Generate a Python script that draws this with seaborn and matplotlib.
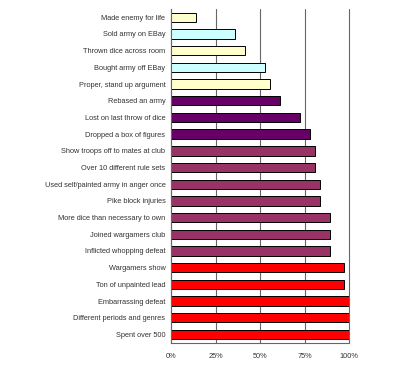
import matplotlib
matplotlib.use("Agg")
import matplotlib.pyplot as plt
import seaborn as sns
import numpy as np
from matplotlib.ticker import FixedLocator

labels = [
    "Made enemy for life",
    "Sold army on EBay",
    "Thrown dice across room",
    "Bought army off EBay",
    "Proper, stand up argument",
    "Rebased an army",
    "Lost on last throw of dice",
    "Dropped a box of figures",
    "Show troops off to mates at club",
    "Over 10 different rule sets",
    "Used self/painted army in anger once",
    "Pike block injuries",
    "More dice than necessary to own",
    "Joined wargamers club",
    "Inflicted whopping defeat",
    "Wargamers show",
    "Ton of unpainted lead",
    "Embarrassing defeat",
    "Different periods and genres",
    "Spent over 500",
]
values = [13.9, 36.1, 41.7, 52.8, 55.6, 61.1, 72.2, 77.8, 80.6, 80.6,
          83.3, 83.3, 88.9, 88.9, 88.9, 97.2, 97.2, 100, 100, 100]
colors = ["#FFFFCC", "#CCFFFF", "#FFFFCC", "#CCFFFF", "#FFFFCC",
          "#660066", "#660066", "#660066",
          "#993366", "#993366", "#993366", "#993366", "#993366", "#993366", "#993366",
          "#FF0000", "#FF0000", "#FF0000", "#FF0000", "#FF0000"]
xticks = [0, 25, 50, 75, 100]
xticklabels = ["0%", "25%", "50%", "75%", "100%"]

sns.set_style("white")
plt.rcParams['font.family'] = ['Liberation Sans', 'DejaVu Sans']

fig = plt.figure(figsize=(4.0, 3.73), dpi=100)
ax = fig.add_axes([0.4275, 0.081, 0.4458, 0.895])

sns.barplot(x=values, y=labels, hue=labels, palette=colors, legend=False,
            orient="h", width=0.56, saturation=1, edgecolor="black",
            linewidth=0.7, ax=ax)

ax.set_xlim(0, 100)
ax.set_ylim(len(labels) - 0.5, -0.5)
ax.set_xticks(xticks)
ax.set_xticklabels(xticklabels, fontsize=5.3, color="#333333")
ax.tick_params(axis="y", which="major", length=0, labelsize=5.3, labelcolor="#333333", pad=4)
ax.yaxis.set_minor_locator(FixedLocator(np.arange(-0.5, len(labels), 1)))
ax.tick_params(axis="y", which="minor", length=3, width=0.6, color="#555555", direction="out")
ax.tick_params(axis="x", length=3, width=0.6, color="#555555", direction="out", pad=4)
ax.grid(axis="x", color="#666666", linewidth=0.8)
for gl in ax.get_xgridlines():
    gl.set_clip_on(False)
ax.set_axisbelow(True)
ax.set_xlabel("")
ax.set_ylabel("")
for s in ["top", "right"]:
    ax.spines[s].set_visible(False)
for s in ["left", "bottom"]:
    ax.spines[s].set_color("#666666")
    ax.spines[s].set_linewidth(0.8)

fig.savefig("out.png", dpi=100, facecolor="white")
